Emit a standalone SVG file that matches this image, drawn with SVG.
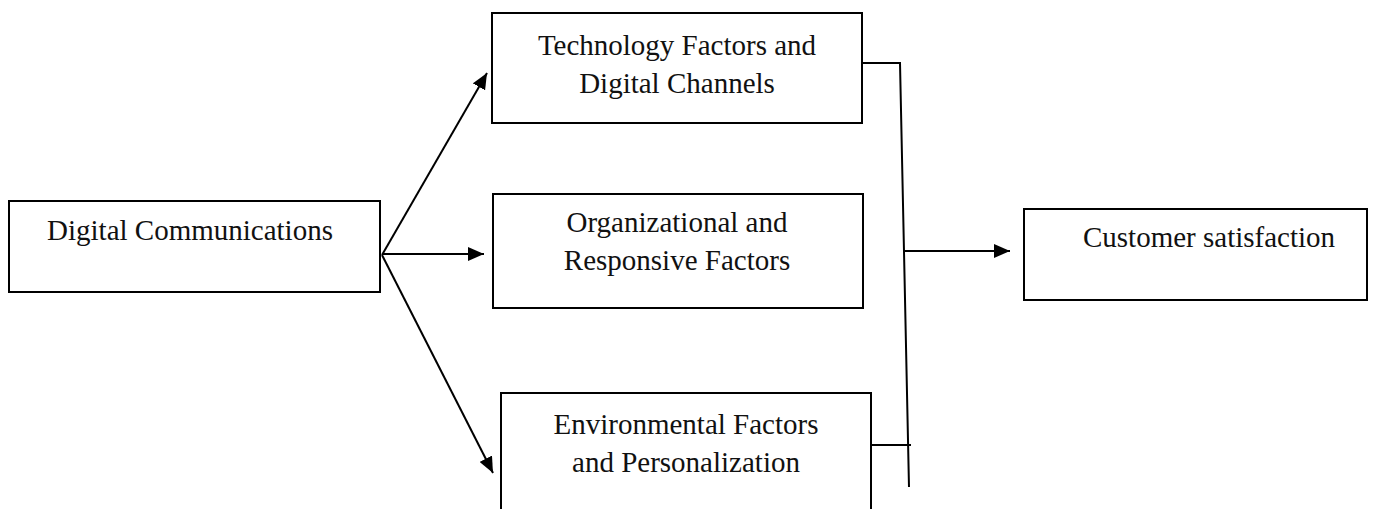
<svg xmlns="http://www.w3.org/2000/svg" width="1386" height="509" viewBox="0 0 1386 509">
  <style>
    .box { fill: #ffffff; stroke: #000000; stroke-width: 2; }
    .lbl { font-family: "Liberation Serif", "Times New Roman", serif; font-size: 29px; fill: #111111; text-anchor: middle; }
    .con { fill: none; stroke: #000000; stroke-width: 2; }
  </style>
  <defs>
    <marker id="arr" markerUnits="userSpaceOnUse" markerWidth="18" markerHeight="14" refX="16" refY="7" orient="auto">
      <path d="M0,0 L16,7 L0,14 z" fill="#000000"/>
    </marker>
  </defs>
  <rect width="1386" height="509" fill="#ffffff"/>

  <g id="node-digital-communications">
    <rect class="box" x="9" y="201" width="371" height="91"/>
    <text class="lbl" x="190" y="240">Digital Communications</text>
  </g>
  <g id="node-technology">
    <rect class="box" x="492" y="13" width="370" height="110"/>
    <text class="lbl" x="677" y="55">Technology Factors and</text>
    <text class="lbl" x="677" y="93">Digital Channels</text>
  </g>
  <g id="node-organizational">
    <rect class="box" x="493" y="194" width="370" height="114"/>
    <text class="lbl" x="677" y="232">Organizational and</text>
    <text class="lbl" x="677" y="270">Responsive Factors</text>
  </g>
  <g id="node-environmental">
    <rect class="box" x="501" y="393" width="370" height="130"/>
    <text class="lbl" x="686" y="434">Environmental Factors</text>
    <text class="lbl" x="686" y="472">and Personalization</text>
  </g>
  <g id="node-customer-satisfaction">
    <rect class="box" x="1024" y="209" width="343" height="91"/>
    <text class="lbl" x="1209" y="247">Customer satisfaction</text>
  </g>

  <g id="connectors">
    <line class="con" x1="382" y1="255" x2="487" y2="73" marker-end="url(#arr)"/>
    <line class="con" x1="382" y1="254" x2="484" y2="254" marker-end="url(#arr)"/>
    <line class="con" x1="382" y1="255" x2="493" y2="473" marker-end="url(#arr)"/>
    <polyline class="con" points="862,63 900,63 909,487"/>
    <line class="con" x1="871" y1="445" x2="911" y2="445"/>
    <line class="con" x1="903" y1="251" x2="1010" y2="251" marker-end="url(#arr)"/>
  </g>
</svg>
